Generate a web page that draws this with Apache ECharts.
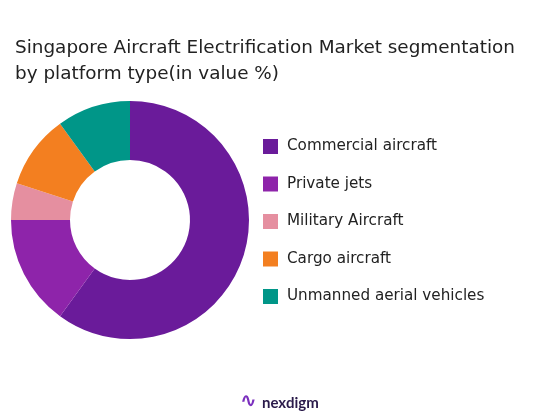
<!DOCTYPE html>
<html><head><meta charset="utf-8">
<script src="https://cdn.jsdelivr.net/npm/echarts@6/dist/echarts.min.js"></script>
<style>html,body{margin:0;padding:0;background:#fff}#c{width:551px;height:418px}</style>
</head><body><div id="c"></div>
<script>
const categories = ["Commercial aircraft","Private jets","Military Aircraft","Cargo aircraft","Unmanned aerial vehicles"];
const values = [60,15,5,10,10];
const colors = ["#6A1B9A","#8E24AA","#E58FA0","#F37F20","#009688"];
const chart = echarts.init(document.getElementById('c'));
chart.setOption({
  animation:false,
  title:{text:"Singapore Aircraft Electrification Market segmentation\nby platform type(in value %)",left:10,top:30,
    textStyle:{fontFamily:"DejaVu Sans",fontSize:18.4,fontWeight:"normal",color:"#222",lineHeight:26}},
  legend:{orient:"vertical",left:258,top:134,itemWidth:15,itemHeight:15,itemGap:22.5,icon:"rect",
    textStyle:{fontFamily:"DejaVu Sans",fontSize:15.2,color:"#222",padding:[0,0,0,4]},data:categories},
  graphic:[{type:"text",left:262,top:396,style:{text:"nexdigm",font:"bold 15px Lato",fill:"#2a1a4a"}},
           {type:"text",left:240,top:392,style:{text:"∿",font:"bold 20px DejaVu Sans",fill:"#7B2FBE"}}],
  series:[{type:"pie",radius:[60,119],center:[130,220],startAngle:90,clockwise:true,
    label:{show:false},labelLine:{show:false},
    data:categories.map((n,i)=>({name:n,value:values[i],itemStyle:{color:colors[i]}}))}]
});
</script></body></html>
